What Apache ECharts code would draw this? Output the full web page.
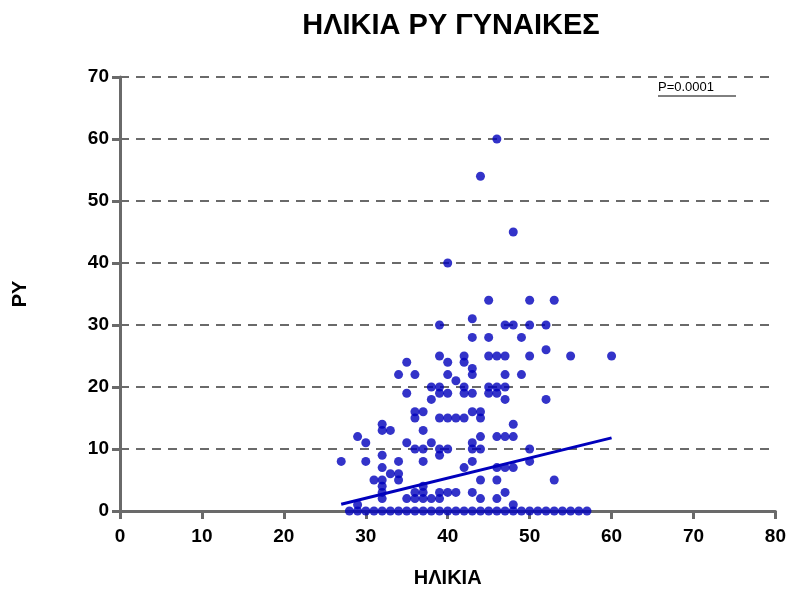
<!DOCTYPE html>
<html>
<head>
<meta charset="utf-8">
<script src="https://cdn.jsdelivr.net/npm/echarts@6/dist/echarts.min.js"></script>
<style>
  html, body { margin: 0; padding: 0; background: #fff; }
  #chart { width: 789px; height: 593px; }
</style>
</head>
<body>
<div id="chart"></div>
<script>
// Age (years) of each woman
const ages = [
  46, 44, 48, 40,
  45, 50, 53,
  43, 39, 47, 48, 50, 52,
  43, 45, 49,
  39, 42, 45, 46, 47, 50, 52, 55, 60,
  35, 40, 42,
  43,
  34, 36, 40, 43, 47, 49,
  41,
  38, 39, 42, 45, 46, 47,
  35, 39, 40, 42, 43, 45, 46,
  38, 47, 52,
  37, 43, 44, 36,
  36, 39, 40, 41, 42, 44,
  32, 48,
  32, 33, 37,
  29, 44, 46, 47, 48,
  30, 35, 38, 43,
  36, 37, 39, 40, 43, 44, 50,
  32, 39,
  27, 30, 34, 37, 43, 50,
  32, 42, 46, 47, 48,
  33, 34,
  31, 32, 34, 44, 46, 53,
  32, 37,
  32, 36, 37, 39, 40, 41, 43, 47,
  32, 35, 36, 37, 38, 39, 44, 46,
  29, 48,
  28, 29, 30, 31, 32, 33, 34, 35, 36, 37, 38, 39, 40, 41, 42,
  43, 44, 45, 46, 47, 48, 49, 50, 51, 52, 53, 54, 55, 56, 57
];

// Pack-years (ΡΥ) for the same women, in the same order
const packYears = [
  60, 54, 45, 40,
  34, 34, 34,
  31, 30, 30, 30, 30, 30,
  28, 28, 28,
  25, 25, 25, 25, 25, 25, 26, 25, 25,
  24, 24, 24,
  23,
  22, 22, 22, 22, 22, 22,
  21,
  20, 20, 20, 20, 20, 20,
  19, 19, 19, 19, 19, 19, 19,
  18, 18, 18,
  16, 16, 16, 16,
  15, 15, 15, 15, 15, 15,
  14, 14,
  13, 13, 13,
  12, 12, 12, 12, 12,
  11, 11, 11, 11,
  10, 10, 10, 10, 10, 10, 10,
  9, 9,
  8, 8, 8, 8, 8, 8,
  7, 7, 7, 7, 7,
  6, 6,
  5, 5, 5, 5, 5, 5,
  4, 4,
  3, 3, 3, 3, 3, 3, 3, 3,
  2, 2, 2, 2, 2, 2, 2, 2,
  1, 1,
  0, 0, 0, 0, 0, 0, 0, 0, 0, 0, 0, 0, 0, 0, 0,
  0, 0, 0, 0, 0, 0, 0, 0, 0, 0, 0, 0, 0, 0, 0
];

// Fitted regression line, end points (age, pack-years)
const fitAges = [27, 60];
const fitPackYears = [1.1, 11.8];

const xTicks = { min: 0, max: 80, step: 10 };
const yTicks = { min: 0, max: 70, step: 10 };

const pLabel = 'P=0.0001';

const points = ages.map((a, i) => [a, packYears[i]]);
const fitLine = fitAges.map((a, i) => [a, fitPackYears[i]]);

const axisGray = '#6a6a6a';
const dotBlue = '#0000bc';
const fontStack = '"Liberation Sans", Arial, sans-serif';
const tickFont = { color: '#000', fontFamily: fontStack, fontWeight: 'bold', fontSize: 19 };
const nameFont = { color: '#000', fontFamily: fontStack, fontWeight: 'bold', fontSize: 20 };

const chart = echarts.init(document.getElementById('chart'), null, { renderer: 'canvas' });
chart.setOption({
  backgroundColor: '#fff',
  animation: false,
  title: {
    text: 'ΗΛΙΚΙΑ ΡΥ ΓΥΝΑΙΚΕΣ',
    left: 446,
    top: 6,
    textAlign: 'center',
    textStyle: {
      color: '#000',
      fontFamily: fontStack,
      fontWeight: 'bold',
      fontSize: 29
    }
  },
  grid: { left: 120, right: 13, top: 77, bottom: 66, containLabel: false },
  xAxis: {
    type: 'value',
    min: xTicks.min,
    max: xTicks.max,
    interval: xTicks.step,
    name: 'ΗΛΙΚΙΑ',
    nameLocation: 'middle',
    nameGap: 57,
    nameTextStyle: nameFont,
    axisLine: { show: true, onZero: false, lineStyle: { color: axisGray, width: 3 } },
    axisTick: { show: true, length: 8, lineStyle: { color: axisGray, width: 3 } },
    axisLabel: Object.assign({ margin: 16 }, tickFont),
    splitLine: { show: false }
  },
  yAxis: {
    type: 'value',
    min: yTicks.min,
    max: yTicks.max,
    interval: yTicks.step,
    name: 'ΡΥ',
    nameLocation: 'middle',
    nameGap: 90,
    nameRotate: 90,
    nameTextStyle: nameFont,
    axisLine: { show: true, onZero: false, lineStyle: { color: axisGray, width: 3 } },
    axisTick: { show: true, length: 8, lineStyle: { color: axisGray, width: 3 } },
    axisLabel: Object.assign({ margin: 11 }, tickFont),
    splitLine: {
      show: true,
      lineStyle: { color: axisGray, width: 2, type: [9, 7] }
    }
  },
  graphic: [
    {
      type: 'text',
      left: 658,
      top: 81,
      style: {
        text: pLabel,
        fill: '#000',
        font: '13px "Liberation Sans", Arial, sans-serif'
      }
    },
    {
      type: 'line',
      shape: { x1: 658, y1: 96, x2: 736, y2: 96 },
      style: { stroke: '#000', lineWidth: 1 }
    }
  ],
  series: [
    {
      type: 'scatter',
      data: points,
      symbol: 'circle',
      symbolSize: 9,
      itemStyle: { color: dotBlue },
      z: 3
    },
    {
      type: 'line',
      data: fitLine,
      showSymbol: false,
      symbol: 'none',
      lineStyle: { color: dotBlue, width: 3 },
      z: 4
    }
  ]
});
</script>
</body>
</html>
